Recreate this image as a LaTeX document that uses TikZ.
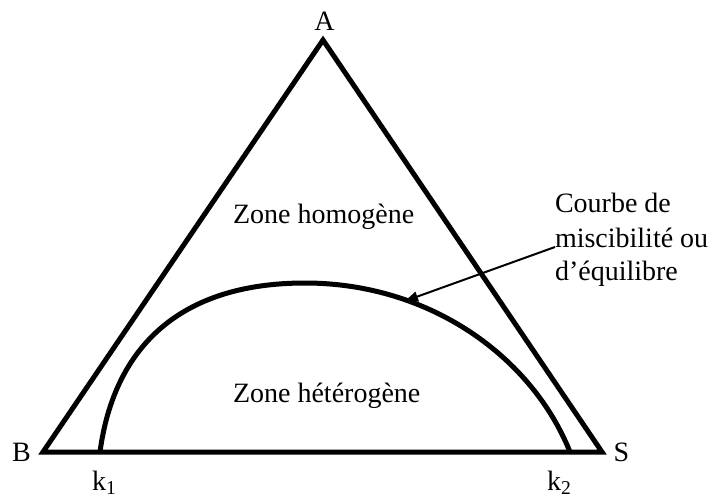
\documentclass[tikz,border=0pt]{standalone}
\usepackage{fontspec}
\setmainfont{Liberation Serif}
\usetikzlibrary{arrows.meta}
\begin{document}
\begin{tikzpicture}[x=1pt,y=-1pt,
  lbl/.style={font=\fontsize{28}{34}\selectfont, inner sep=0pt, outer sep=0pt},
  thickline/.style={line width=5pt},
  pointer/.style={line width=2pt, -{Triangle[length=13pt,width=10pt]}}
]
\useasboundingbox (0,0) rectangle (716,498);
\coordinate (A) at (323,40);
\coordinate (B) at (43,452);
\coordinate (S) at (602,452);
\coordinate (k1) at (100,452);
\coordinate (top) at (305,283);
\coordinate (k2) at (570,452);
\draw[thickline] (B) -- (A) -- (S) -- cycle;
\draw[thickline] (k1) .. controls (114,347) and (180,283) .. (top)
  .. controls (430,283) and (532,357) .. (k2);
\node[lbl, anchor=base] (lA) at (324.5,30) {A};
\node[lbl, anchor=base] (lB) at (21.5,461) {B};
\node[lbl, anchor=base] (lS) at (621.5,461) {S};
\node[lbl, anchor=base west] (lk1) at (92,490) {k\textsubscript{1}};
\node[lbl, anchor=base west] (lk2) at (547,490) {k\textsubscript{2}};
\node[lbl, anchor=base west] (zh) at (233,223) {Zone homogène};
\node[lbl, anchor=base west] (zt) at (233,402) {Zone hétérogène};
\node[lbl, anchor=base west] (c1) at (555,212) {Courbe de};
\node[lbl, anchor=base west] (c2) at (555,247) {miscibilité ou};
\node[lbl, anchor=base west] (c3) at (555,280) {d’équilibre};
\coordinate (arrstart) at (555,247);
\coordinate (arrtip) at (405,301);
\draw[pointer] (arrstart) -- (arrtip);
\end{tikzpicture}
\end{document}
